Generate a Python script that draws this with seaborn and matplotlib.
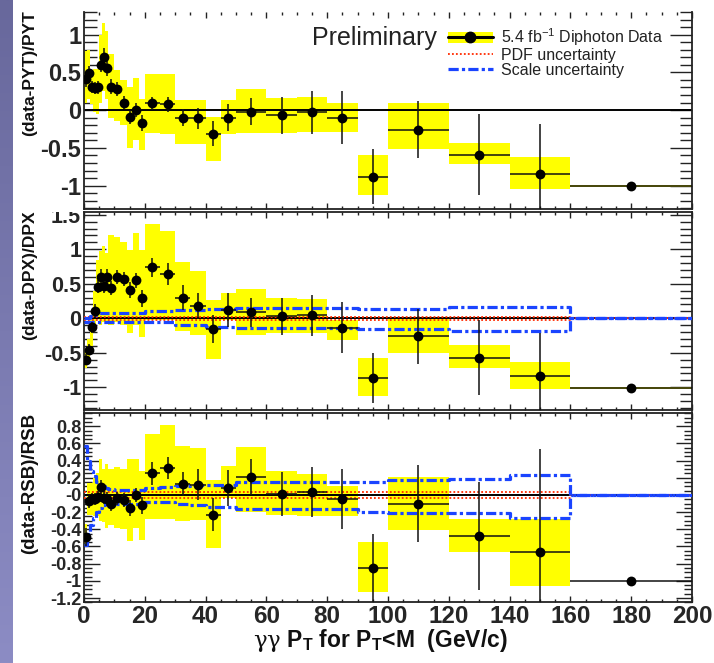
import numpy as np
import matplotlib
matplotlib.use("Agg")
import matplotlib.pyplot as plt
import seaborn as sns
from matplotlib.patches import Patch
from matplotlib.lines import Line2D
from matplotlib.transforms import Bbox, TransformedBbox
from matplotlib.colors import LinearSegmentedColormap
from matplotlib.ticker import MultipleLocator

# ---------------- data ----------------
edges = [0, 1, 2, 3, 4, 5, 6, 7, 8, 10, 12, 14, 16, 18, 20, 25, 30, 35, 40, 45,
         50, 60, 70, 80, 90, 100, 120, 140, 160, 200]

pyt_val = [0.41, 0.49, 0.31, 0.29, 0.30, 0.60, 0.71, 0.56, 0.31, 0.28, 0.10, -0.09, 0.00, -0.17,
           0.09, 0.08, -0.10, -0.11, -0.31, -0.10, -0.02, -0.07, -0.03, -0.10, -0.88, -0.26,
           -0.59, -0.85, -1.00]
pyt_err = [0.10, 0.10, 0.08, 0.08, 0.08, 0.10, 0.11, 0.11, 0.10, 0.09, 0.09, 0.09, 0.09, 0.10,
           0.09, 0.10, 0.11, 0.14, 0.16, 0.18, 0.18, 0.24, 0.28, 0.35, 0.36, 0.38, 0.54, 0.67, 0.01]
pyt_lo = [0.10, 0.15, 0.08, -0.02, -0.05, 0.10, 0.25, 0.15, -0.10, -0.15, -0.20, -0.50, -0.40, -0.53,
          -0.30, -0.32, -0.45, -0.45, -0.68, -0.31, -0.30, -0.30, -0.29, -0.29, -1.13, -0.51,
          -0.72, -1.04, -1.02]
pyt_hi = [0.78, 0.80, 0.50, 0.55, 0.55, 1.00, 1.15, 1.05, 0.75, 0.53, 0.40, 0.30, 0.42, 0.15,
          0.48, 0.48, 0.13, 0.13, -0.09, 0.13, 0.28, 0.16, 0.18, 0.09, -0.60, 0.09, -0.43,
          -0.62, -0.99]

dpx_val = [-0.60, -0.46, -0.13, 0.11, 0.46, 0.60, 0.47, 0.60, 0.44, 0.60, 0.57, 0.41, 0.55, 0.29,
           0.74, 0.64, 0.30, 0.18, -0.16, 0.12, 0.09, 0.03, 0.04, -0.14, -0.87, -0.26, -0.57,
           -0.83, -1.01]
dpx_err = [0.08, 0.08, 0.08, 0.09, 0.10, 0.11, 0.11, 0.11, 0.10, 0.10, 0.10, 0.12, 0.11, 0.12,
           0.14, 0.16, 0.18, 0.19, 0.20, 0.24, 0.21, 0.27, 0.30, 0.37, 0.36, 0.40, 0.54, 0.62, 0.01]
dpx_lo = [-0.72, -0.65, -0.40, -0.10, 0.00, -0.10, -0.05, -0.05, -0.10, -0.05, -0.10, -0.22, -0.10,
          -0.27, -0.02, -0.02, -0.19, -0.24, -0.59, -0.02, -0.24, -0.22, -0.22, -0.31, -1.12,
          -0.51, -0.72, -1.03, -1.02]
dpx_hi = [-0.45, -0.30, 0.05, 0.40, 0.85, 0.97, 1.05, 0.95, 1.21, 1.18, 1.10, 0.99, 1.24, 0.99,
          1.37, 1.27, 0.82, 0.68, 0.27, 0.37, 0.43, 0.29, 0.28, -0.02, -0.58, 0.02, -0.39,
          -0.64, -1.00]
dpx_scale_up = [0.00, 0.01, 0.03, 0.05, 0.06, 0.07, 0.07, 0.07, 0.07, 0.07, 0.07, 0.07, 0.07, 0.07,
                0.10, 0.10, 0.12, 0.12, 0.13, 0.13, 0.145, 0.145, 0.145, 0.145, 0.14, 0.14,
                0.17, 0.17, 0.0]
dpx_scale_dn = [-0.05, -0.05, -0.06, -0.06, -0.06, -0.06, -0.06, -0.06, -0.06, -0.06, -0.06, -0.06,
                -0.06, -0.06, -0.05, -0.05, -0.10, -0.10, -0.12, -0.12, -0.145, -0.145, -0.145,
                -0.145, -0.15, -0.15, -0.19, -0.19, 0.0]
dpx_pdf_up = [0.025] * 28 + [0.0]
dpx_pdf_dn = [-0.025] * 28 + [0.0]

rsb_val = [-0.49, -0.07, -0.05, -0.05, -0.02, 0.09, -0.03, -0.05, -0.11, -0.04, -0.06, -0.15, 0.00,
           -0.12, 0.25, 0.31, 0.13, 0.12, -0.23, 0.08, 0.21, 0.01, 0.03, -0.05, -0.85, -0.10,
           -0.48, -0.67, -1.00]
rsb_err = [0.10, 0.08, 0.07, 0.07, 0.07, 0.08, 0.08, 0.08, 0.08, 0.08, 0.08, 0.09, 0.08, 0.10,
           0.13, 0.13, 0.14, 0.18, 0.19, 0.21, 0.21, 0.26, 0.29, 0.35, 0.40, 0.45, 0.63, 1.20, 0.01]
rsb_lo = [-0.60, -0.23, -0.23, -0.25, -0.25, -0.30, -0.32, -0.38, -0.35, -0.38, -0.40, -0.54, -0.38,
          -0.52, -0.28, -0.28, -0.30, -0.29, -0.62, -0.03, -0.20, -0.23, -0.25, -0.25, -1.13,
          -0.41, -0.67, -1.06, -1.00]
rsb_hi = [-0.34, 0.14, 0.14, 0.20, 0.25, 0.42, 0.30, 0.36, 0.30, 0.33, 0.30, 0.42, 0.42, 0.28,
          0.71, 0.81, 0.57, 0.55, 0.17, 0.34, 0.56, 0.28, 0.24, 0.10, -0.55, 0.21, -0.28,
          -0.28, -1.00]
rsb_scale_up = [0.57, 0.40, 0.28, 0.22, 0.15, 0.12, 0.10, 0.08, 0.07, 0.06, 0.06, 0.06, 0.06, 0.06,
                0.08, 0.09, 0.10, 0.11, 0.12, 0.12, 0.15, 0.15, 0.15, 0.15, 0.15, 0.17, 0.18,
                0.23, 0.0]
rsb_scale_dn = [-0.58, -0.45, -0.35, -0.27, -0.20, -0.15, -0.12, -0.11, -0.10, -0.10, -0.10, -0.10,
                -0.10, -0.10, -0.08, -0.08, -0.10, -0.12, -0.14, -0.14, -0.16, -0.16, -0.16,
                -0.16, -0.20, -0.21, -0.21, -0.27, 0.0]
rsb_pdf_up = [0.03] * 28 + [0.0]
rsb_pdf_dn = [-0.04] * 28 + [0.0]

ylabels = ["(data-PYT)/PYT", "(data-DPX)/DPX", "(data-RSB)/RSB"]
x_ticks = [0, 20, 40, 60, 80, 100, 120, 140, 160, 180, 200]
top_yticks = [-1, -0.5, 0, 0.5, 1]
top_ylabels = ["-1", "-0.5", "0", "0.5", "1"]
mid_yticks = [-1, -0.5, 0, 0.5, 1, 1.5]
mid_ylabels = ["-1", "-0.5", "0", "0.5", "1", "1.5"]
bot_yticks = [-1.2, -1.0, -0.8, -0.6, -0.4, -0.2, 0.0, 0.2, 0.4, 0.6, 0.8]
bot_ylabels = ["-1.2", "-1", "-0.8", "-0.6", "-0.4", "-0.2", "-0", "0.2", "0.4", "0.6", "0.8"]
legend_labels = [r"5.4 fb$^{\mathsf{-1}}$ Diphoton Data", "PDF uncertainty", "Scale uncertainty"]

# ---------------- style ----------------
sns.set_style("ticks")
plt.rcParams['font.family'] = ['Liberation Sans', 'DejaVu Sans']
plt.rcParams['mathtext.fontset'] = 'custom'
plt.rcParams['mathtext.rm'] = 'DejaVu Serif'
plt.rcParams['mathtext.sf'] = 'Liberation Sans'
plt.rcParams['mathtext.bf'] = 'Liberation Sans:bold'
plt.rcParams['mathtext.it'] = 'DejaVu Serif:italic'

W, H = 714, 663
fig = plt.figure(figsize=(W / 100, H / 100), dpi=100)
fig.patch.set_facecolor('white')

# left decorative stripe
sax = fig.add_axes([0, 0, 13 / W, 1])
grad = np.linspace(0, 1, 256).reshape(-1, 1)
cm = LinearSegmentedColormap.from_list("strip", ["#68689c", "#8c8cc4"])
sax.imshow(grad, aspect='auto', cmap=cm, extent=[0, 1, 0, 1], origin='upper')
sax.set_axis_off()

edges_a = np.array(edges, dtype=float)
centers = 0.5 * (edges_a[:-1] + edges_a[1:])
halfw = 0.5 * np.diff(edges_a)

left, right = 84, 692
def ax_rect(top_px, bot_px):
    return [left / W, 1 - bot_px / H, (right - left) / W, (bot_px - top_px) / H]

ax_top = fig.add_axes(ax_rect(12, 209))
ax_mid = fig.add_axes(ax_rect(212, 410))
ax_bot = fig.add_axes(ax_rect(412.5, 602.3))

YEL = '#ffff00'
BLUE = '#1a44ff'
RED = '#ff2a00'
DASHDOT = (0, (3.2, 1.0, 1.0, 1.0))

def steps(vals):
    return list(vals) + [vals[-1]]

def draw_panel(ax, val, err, lo, hi, scale=None, pdf=None):
    lo_a = np.array(lo); hi_a = np.array(hi)
    ax.bar(centers, hi_a - lo_a, bottom=lo_a, width=np.diff(edges_a), color=YEL,
           edgecolor='none', linewidth=0, zorder=1)
    if pdf is not None:
        for v in pdf:
            sns.lineplot(x=edges, y=steps(v), ax=ax, drawstyle='steps-post', estimator=None,
                         color=RED, lw=1.3, linestyle=(0, (1, 1.2)), zorder=3)
    if scale is not None:
        for v in scale:
            sns.lineplot(x=edges, y=steps(v), ax=ax, drawstyle='steps-post', estimator=None,
                         color=BLUE, lw=2.3, linestyle=DASHDOT, zorder=3)
    ax.axhline(0, color='black', lw=1.4, zorder=2.5)
    ax.errorbar(centers, val, xerr=halfw, yerr=err, fmt='none', ecolor='#111111',
                elinewidth=1.1, capsize=0, zorder=4)
    sns.scatterplot(x=centers, y=val, ax=ax, color='black', s=50, edgecolor='black',
                    linewidth=0, zorder=5, legend=False)

draw_panel(ax_top, pyt_val, pyt_err, pyt_lo, pyt_hi)
draw_panel(ax_mid, dpx_val, dpx_err, dpx_lo, dpx_hi,
           scale=[dpx_scale_up, dpx_scale_dn], pdf=[dpx_pdf_up, dpx_pdf_dn])
draw_panel(ax_bot, rsb_val, rsb_err, rsb_lo, rsb_hi,
           scale=[rsb_scale_up, rsb_scale_dn], pdf=[rsb_pdf_up, rsb_pdf_dn])

ax_top.set_ylim(-1.31, 1.30)
ax_mid.set_ylim(-1.33, 1.54)
ax_bot.set_ylim(-1.25, 0.96)

for ax, yt, yl, fs, ymin, ymaj_len, ymin_len in [
        (ax_top, top_yticks, top_ylabels, 17, 0.1, 16, 9),
        (ax_mid, mid_yticks, mid_ylabels, 15.5, 0.1, 16, 9),
        (ax_bot, bot_yticks, bot_ylabels, 13, 0.05, 11.5, 5.5)]:
    ax.set_xlim(0, 200)
    ax.set_xticks(x_ticks)
    ax.xaxis.set_minor_locator(MultipleLocator(5))
    ax.set_yticks(yt)
    ax.set_yticklabels(yl, fontsize=fs, fontweight='bold')
    ax.yaxis.set_minor_locator(MultipleLocator(ymin))
    ax.tick_params(axis='both', which='both', direction='in', top=True, right=True,
                   color='#222222', width=1.0)
    ax.tick_params(axis='y', which='major', length=ymaj_len, pad=2)
    ax.tick_params(axis='y', which='minor', length=ymin_len)
    ax.tick_params(axis='x', which='major', length=4.5)
    ax.tick_params(axis='x', which='minor', length=2.5)
    ax.set_xlabel('')
    ax.set_ylabel('')
    for s in ax.spines.values():
        s.set_linewidth(1.3)
        s.set_color('#222222')
    ax.set_facecolor('white')

ax_top.spines['top'].set_visible(False)
ax_top.set_xticklabels([])
ax_mid.set_xticklabels([])
ax_bot.set_xticklabels([str(v) for v in x_ticks], fontsize=17.5, fontweight='bold')
ax_bot.tick_params(axis='x', which='major', pad=2)

# the "1.5" label of the middle pad is cut by the pad above (ROOT look)
clip = TransformedBbox(Bbox.from_extents(0, 0, 1, 1 - 212 / H), fig.transFigure)
for tk in ax_mid.yaxis.get_major_ticks():
    tk.label1.set_clip_on(True)
    tk.label1.set_clip_box(clip)

# y-axis titles (aligned to top of each axis as in ROOT)
for lab, top_px, fs in [(ylabels[0], 10, 12.5), (ylabels[1], 210, 12.5), (ylabels[2], 413, 13.5)]:
    fig.text(30 / W, 1 - top_px / H, lab, rotation=90, ha='right', va='center',
             rotation_mode='anchor', fontsize=fs, fontweight='bold', color='#111111')

# x-axis title
fig.text(380 / W, 1 - 641 / H,
         r"$\mathrm{\gamma\gamma}$ $\mathbf{P_{T}}$ for $\mathbf{P_{T}}$<M  (GeV/c)",
         ha='center', va='center', fontsize=16.5, fontweight='bold', color='#111111')

# Preliminary + legend
ax_top.text(312 / W, 1 - 45 / H, "Preliminary", transform=fig.transFigure, fontsize=18,
            color='#222222', ha='left', va='baseline')
h_data = (Patch(facecolor=YEL, edgecolor='none'),
          Line2D([], [], color='black', lw=2.2, marker='o', markersize=7.5))
h_pdf = Line2D([], [], color=RED, lw=1.3, linestyle=(0, (1, 1.2)))
h_scale = Line2D([], [], color=BLUE, lw=2.3, linestyle=DASHDOT)
leg = ax_top.legend([h_data, h_pdf, h_scale], legend_labels, loc='upper left',
                    bbox_to_anchor=(448 / W, 1 - 26 / H), bbox_transform=fig.transFigure,
                    frameon=False, fontsize=11.5, labelspacing=0.0, handlelength=2.8,
                    handletextpad=0.5, borderpad=0, borderaxespad=0)
for t in leg.get_texts():
    t.set_color('#222222')

fig.savefig("out.png", dpi=100, facecolor='white')
